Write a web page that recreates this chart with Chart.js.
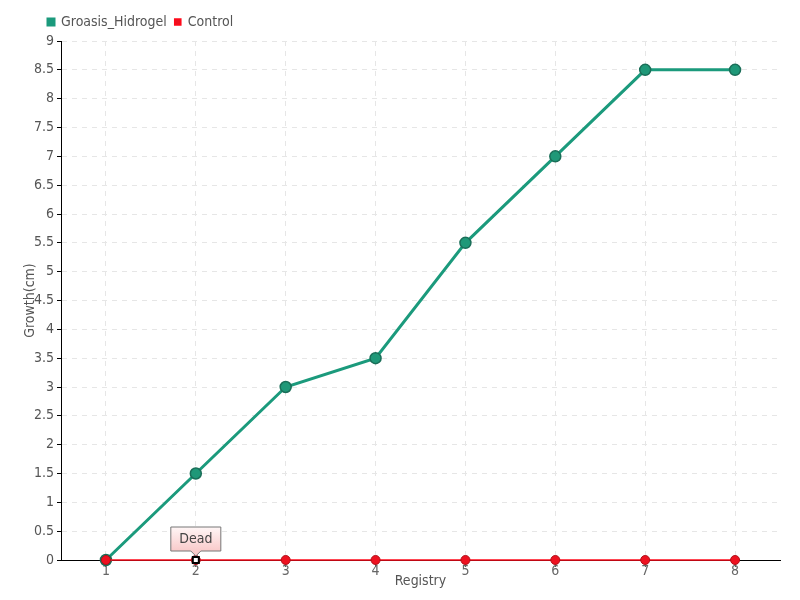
<!DOCTYPE html>
<html><head><meta charset="utf-8">
<script src="https://cdn.jsdelivr.net/npm/chart.js@4/dist/chart.umd.min.js"></script>
<style>html,body{margin:0;padding:0;background:#fff}#w{width:800px;height:600px}</style>
</head><body><div id="w"><canvas id="c" width="800" height="600"></canvas></div>
<script>
const categories = ['1','2','3','4','5','6','7','8'];
const groasis = [0, 1.5, 3, 3.5, 5.5, 7, 8.5, 8.5];
const control = [0, 0, 0, 0, 0, 0, 0, 0];
const annotations = [{ series: 1, index: 1, text: 'Dead' }];
const FONT = "'DejaVu Sans Condensed','Liberation Sans Narrow',sans-serif";

const annot = {
  id: 'annot',
  afterDatasetsDraw(chart) {
    const ctx = chart.ctx;
    annotations.forEach(a => {
      const x = chart.scales.x.getPixelForValue(a.index);
      const y = chart.scales.y.getPixelForValue(chart.data.datasets[a.series].data[a.index]);
      ctx.save();
      ctx.fillStyle = '#000';
      ctx.fillRect(x - 4, y - 4, 8, 8);
      ctx.fillStyle = '#fff';
      ctx.fillRect(x - 2, y - 2, 4, 4);
      const w = 50, h = 24, bx = x - 25, by = y - 33;
      const g = ctx.createLinearGradient(0, by, 0, by + h);
      g.addColorStop(0, '#fff6f6'); g.addColorStop(1, '#f9caca');
      ctx.beginPath();
      ctx.moveTo(bx, by); ctx.lineTo(bx + w, by); ctx.lineTo(bx + w, by + h);
      ctx.lineTo(x + 5, by + h); ctx.lineTo(x, by + h + 5); ctx.lineTo(x - 5, by + h);
      ctx.lineTo(bx, by + h); ctx.closePath();
      ctx.fillStyle = g; ctx.fill();
      ctx.strokeStyle = '#777'; ctx.lineWidth = 1; ctx.stroke();
      ctx.fillStyle = '#444';
      ctx.font = '14px ' + FONT;
      ctx.textAlign = 'center'; ctx.textBaseline = 'middle';
      ctx.fillText(a.text, x, by + h / 2);
      ctx.restore();
    });
  }
};

const legendShift = {
  id: 'legendShift',
  afterLayout(chart) {
    const l = chart.legend;
    if (l) { l.left += 40; l.right += 40; l.top -= 2; l.bottom -= 2; }
  }
};

new Chart(document.getElementById('c'), {
  type: 'line',
  data: {
    labels: categories,
    datasets: [
      { label: 'Groasis_Hidrogel', data: groasis, borderColor: '#1b9a7c', backgroundColor: '#1b9a7c',
        borderWidth: 3, pointRadius: 5.5, pointBackgroundColor: '#1f9878', pointBorderColor: '#1a6e58',
        pointBorderWidth: 1.5, tension: 0, clip: 10, order: 1 },
      { label: 'Control', data: control, borderColor: '#ff0a1a', backgroundColor: '#ee1120',
        borderWidth: 1.6, pointRadius: 4.5, pointBackgroundColor: '#ee1120', pointBorderColor: '#b0101a',
        pointBorderWidth: 1, tension: 0, clip: 10, order: 0 }
    ]
  },
  options: {
    responsive: false, animation: false,
    layout: { padding: { left: 0, right: 20, top: 9, bottom: 0 } },
    plugins: {
      tooltip: { enabled: false },
      legend: {
        position: 'top', align: 'start',
        labels: { boxWidth: 6, boxHeight: 6, padding: 8, color: '#555', font: { family: FONT, size: 14 },
                  sort: (a, b) => a.datasetIndex - b.datasetIndex }
      }
    },
    scales: {
      x: {
        offset: true,
        grid: { offset: false, color: '#e6e6e6', drawTicks: true, tickLength: 7, tickColor: '#555' },
        border: { color: '#000', dash: [5, 5], display: true },
        ticks: { color: '#666', font: { family: FONT, size: 14 }, padding: -4 },
        title: { display: true, text: 'Registry', color: '#555', font: { family: FONT, size: 14 }, padding: { top: 0, bottom: 10 } },
        afterFit: s => { s.height = 40; }
      },
      y: {
        min: 0, max: 9,
        grid: { color: '#e6e6e6', tickLength: 4, tickColor: '#000' },
        border: { color: '#000', dash: [5, 5] },
        ticks: { stepSize: 0.5, color: '#555', font: { family: FONT, size: 14 }, padding: 3,
                 callback: v => String(v) },
        title: { display: true, text: 'Growth(cm)', color: '#555', font: { family: FONT, size: 14 }, padding: { top: 22, bottom: 0 } },
        afterFit: s => { s.width = 61; }
      }
    }
  },
  plugins: [annot, legendShift]
});
</script>
</body></html>
